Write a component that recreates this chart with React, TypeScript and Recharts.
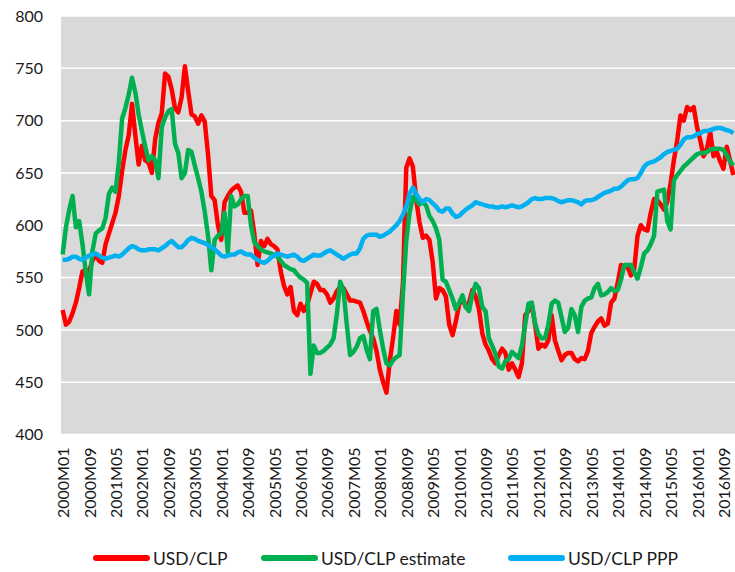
import React from 'react';
import { LineChart, Line, XAxis, YAxis, CartesianGrid, Legend } from 'recharts';

// monthly categories 2000M01 .. 2016M12
const years = [2000, 2001, 2002, 2003, 2004, 2005, 2006, 2007, 2008, 2009, 2010, 2011, 2012, 2013, 2014, 2015, 2016];
const months = years.flatMap((y) =>
  Array.from({ length: 12 }, (_, m) => `${y}M${String(m + 1).padStart(2, '0')}`)
);

const yTicks = [400, 450, 500, 550, 600, 650, 700, 750, 800];

// USD/CLP (red), one row per year
const usdClp = [
  519, 505, 508, 516, 526, 540, 556, 557, 556, 566, 572, 566,
  564, 582, 592, 602, 612, 628, 652, 672, 686, 716, 686, 658,
  676, 662, 660, 650, 682, 698, 707, 745, 742, 730, 712, 708,
  722, 752, 728, 706, 704, 697, 705, 699, 668, 628, 624, 600,
  586, 622, 628, 633, 636, 638, 632, 612, 612, 614, 592, 562,
  585, 580, 587, 582, 580, 577, 556, 542, 534, 541, 518, 514,
  525, 518, 524, 535, 546, 544, 538, 538, 534, 526, 530, 537,
  541, 540, 534, 528, 528, 527, 526, 518, 508, 499, 492, 480,
  462, 450, 440, 470, 492, 518, 505, 545, 655, 664, 656, 625,
  603, 588, 590, 586, 565, 530, 540, 538, 532, 505, 495, 508,
  524, 530, 522, 526, 538, 532, 520, 497, 486, 480, 472, 468,
  476, 482, 478, 462, 468, 462, 455, 468, 514, 518, 524, 505,
  482, 486, 484, 490, 514, 490, 480, 471, 476, 478, 478, 472,
  470, 473, 472, 480, 497, 503, 508, 511, 504, 506, 526, 530,
  545, 562, 560, 560, 552, 558, 590, 600, 596, 595, 612, 625,
  624, 620, 615, 622, 640, 662, 681, 705, 700, 713, 710, 713,
  694, 681, 666, 673, 689, 666, 670, 661, 654, 675, 662, 648,
];

// USD/CLP estimate (green)
const usdClpEstimate = [
  572, 598, 615, 628, 598, 604, 582, 555, 534, 575, 592, 595,
  597, 607, 630, 636, 632, 660, 702, 712, 725, 741, 727, 706,
  690, 675, 662, 666, 662, 645, 694, 703, 709, 711, 678, 669,
  645, 650, 672, 670, 657, 645, 632, 613, 590, 557, 586, 590,
  592, 612, 574, 628, 618, 620, 625, 628, 628, 600, 584, 580,
  577, 575, 574, 573, 572, 570, 566, 562, 560, 558, 557, 553,
  550, 548, 545, 458, 485, 478, 478, 480, 483, 486, 492, 515,
  546, 538, 505, 476, 479, 484, 492, 494, 481, 472, 518, 520,
  500, 482, 468, 466, 471, 474, 476, 535, 585, 612, 627, 624,
  620, 622, 619, 609, 604, 597, 586, 548, 546, 538, 530, 520,
  526, 533, 522, 518, 534, 544, 540, 522, 518, 492, 485, 477,
  465, 463, 470, 472, 479, 476, 473, 485, 505, 525, 526, 506,
  496, 492, 492, 505, 525, 528, 526, 512, 498, 502, 520, 514,
  498, 522, 528, 530, 531, 540, 544, 533, 534, 536, 540, 537,
  538, 548, 562, 562, 562, 555, 549, 560, 573, 576, 582, 590,
  632, 633, 634, 604, 596, 643, 648, 652, 656, 659, 662, 665,
  668, 669, 669, 670, 672, 673, 673, 673, 672, 667, 661, 657,
];

// USD/CLP PPP (blue)
const usdClpPpp = [
  567, 567, 568, 570, 570, 568, 567, 569, 571, 572, 573, 571,
  569, 568, 569, 570, 571, 570, 572, 575, 578, 580, 579, 577,
  576, 576, 577, 577, 577, 576, 578, 580, 583, 585, 582, 579,
  579, 582, 586, 588, 587, 585, 584, 583, 581, 579, 577, 574,
  571, 570, 571, 572, 572, 574, 575, 573, 572, 572, 569, 567,
  565, 564, 566, 569, 571, 573, 572, 571, 570, 571, 572, 570,
  567, 566, 568, 570, 572, 571, 571, 573, 575, 576, 574, 572,
  570, 568, 570, 572, 573, 573, 578, 587, 590, 591, 591, 591,
  589, 590, 592, 594, 597, 600, 604, 610, 618, 630, 636, 630,
  625, 622, 625, 624, 621, 618, 614, 613, 616, 616, 611, 608,
  609, 612, 615, 617, 619, 622, 621, 620, 619, 618, 618, 617,
  617, 618, 617, 618, 619, 618, 617, 618, 620, 622, 625, 626,
  625, 625, 626, 626, 626, 625, 623, 622, 623, 624, 624, 623,
  622, 620, 623, 624, 624, 625, 627, 629, 631, 632, 633, 635,
  635, 637, 640, 643, 644, 644, 645, 650, 656, 659, 660, 661,
  663, 665, 668, 670, 671, 672, 673, 677, 682, 684, 684, 685,
  687, 688, 690, 690, 691, 692, 693, 693, 692, 691, 690, 688,
];

const data = months.map((month, i) => ({
  month,
  usdClp: usdClp[i],
  estimate: usdClpEstimate[i],
  ppp: usdClpPpp[i],
}));

// series in drawing / legend order
const series = [
  { key: 'usdClp', name: 'USD/CLP', color: '#ff0000' },
  { key: 'estimate', name: 'USD/CLP estimate', color: '#00b050' },
  { key: 'ppp', name: 'USD/CLP PPP', color: '#00b0f0' },
];
// width of each legend entry (last one just takes what it needs)
const legendWidths = [168, 247, undefined];

const FONT = 'Lato, "Liberation Sans", sans-serif';

const MonthTick = (props: any) => {
  const { x, y, payload } = props;
  return (
    <text
      x={x}
      y={y}
      transform={`rotate(-90, ${x}, ${y})`}
      textAnchor="end"
      dominantBaseline="central"
      fontSize={16}
      fontFamily={FONT}
      fill="#1a1a1a"
    >
      {payload.value}
    </text>
  );
};

// own legend so the order stays as in the source (recharts sorts by name)
const renderLegend = () => (
  <div style={{ display: 'flex', alignItems: 'center', height: 30, paddingLeft: 93, paddingTop: 2, boxSizing: 'border-box', fontFamily: FONT, fontSize: 17.5, color: '#1a1a1a' }}>
    {series.map((s, i) => (
      <div key={s.key} style={{ display: 'flex', alignItems: 'center', width: legendWidths[i], flex: 'none' }}>
        <span style={{ display: 'inline-block', width: 57, height: 6, borderRadius: 3, background: s.color, marginRight: 3 }} />
        <span>{s.name}</span>
      </div>
    ))}
  </div>
);

export default function App() {
  return (
    <div style={{ width: 735, height: 572 }}>
      <style>{'body{margin:0}'}</style>
      <LineChart width={735} height={572} data={data} margin={{ top: 16, right: 0, left: 0, bottom: 0 }}>
        <CartesianGrid vertical={false} horizontal stroke="#ffffff" strokeWidth={1.5} fill="#d9d9d9" />
        <XAxis
          dataKey="month"
          interval={7}
          tick={<MonthTick />}
          tickLine={false}
          axisLine={false}
          tickSize={0}
          tickMargin={13}
          height={107.5}
          padding={{ left: 1.65, right: 1.65 }}
        />
        <YAxis
          domain={[400, 800]}
          ticks={yTicks}
          width={61}
          tickLine={false}
          axisLine={false}
          tickSize={0}
          tickMargin={18}
          tick={{ fontSize: 16, fontFamily: FONT, fill: '#1a1a1a' }}
        />
        <Legend verticalAlign="bottom" content={renderLegend} wrapperStyle={{ left: 0, width: 735 }} />
        {series.map((s) => (
          <Line
            key={s.key}
            type="linear"
            dataKey={s.key}
            name={s.name}
            stroke={s.color}
            strokeWidth={4.5}
            dot={false}
            strokeLinejoin="round"
            isAnimationActive={false}
          />
        ))}
      </LineChart>
    </div>
  );
}
